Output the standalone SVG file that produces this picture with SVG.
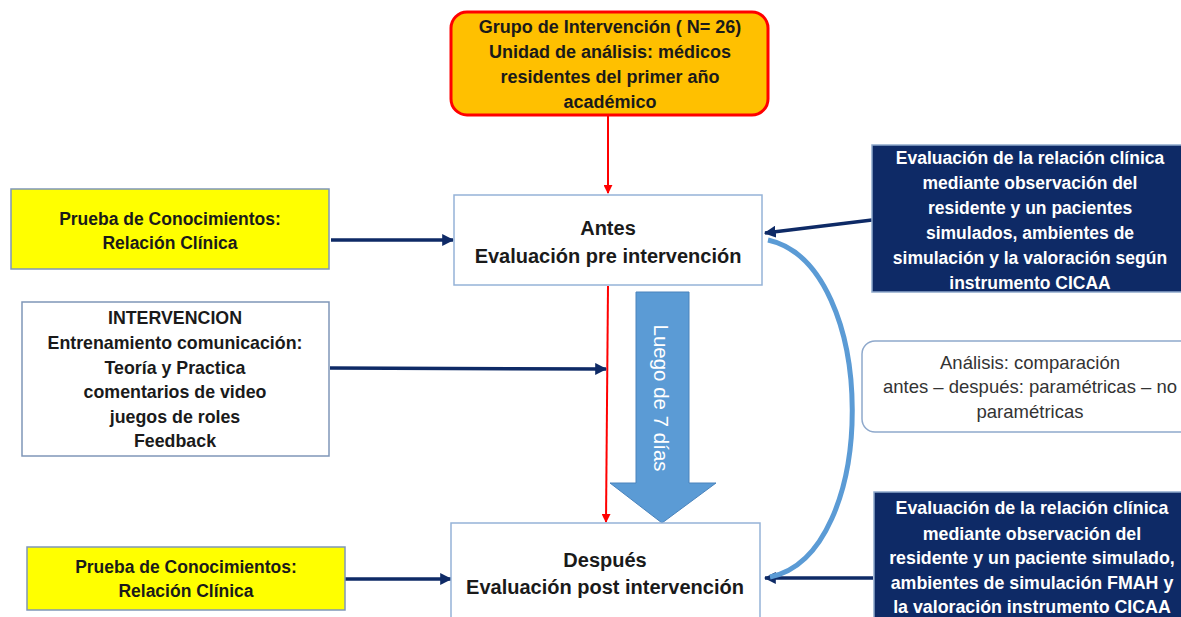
<svg xmlns="http://www.w3.org/2000/svg" width="1181" height="617" viewBox="0 0 1181 617">
<defs>
<style>
.t{font-family:"Liberation Sans",Arial,sans-serif;text-anchor:middle}
.b{font-weight:bold}
.dk{fill:#1a1a1a}
.wh{fill:#ffffff}
.box{fill:#ffffff;stroke:#95B3D7;stroke-width:1.5}
.yel{fill:#FFFF00;stroke:#7F96B8;stroke-width:1.5}
.navy{fill:#0E2A66;stroke:#8FA9CC;stroke-width:1.5}
.nv{stroke:#0E2A66;stroke-width:3.5;fill:none}
.rd{stroke:#FF0000;stroke-width:2;fill:none}
</style>
<marker id="an" viewBox="0 0 10 10" refX="9" refY="5" markerWidth="12" markerHeight="12" markerUnits="userSpaceOnUse" orient="auto">
<path d="M0,0 L10,5 L0,10 z" fill="#0E2A66"/>
</marker>
<marker id="ar" viewBox="0 0 10 10" refX="9" refY="5" markerWidth="9" markerHeight="9" markerUnits="userSpaceOnUse" orient="auto">
<path d="M0,0 L10,5 L0,10 z" fill="#FF0000"/>
</marker>
</defs>
<rect width="1181" height="617" fill="#ffffff"/>

<g id="connectors">
<line class="rd" x1="608" y1="115" x2="608" y2="193" marker-end="url(#ar)"/>
<line class="rd" x1="608" y1="286" x2="606" y2="522" marker-end="url(#ar)"/>
<line class="nv" x1="331" y1="240" x2="453" y2="240" marker-end="url(#an)"/>
<line class="nv" x1="330" y1="368" x2="606" y2="369" marker-end="url(#an)"/>
<line class="nv" x1="345" y1="579" x2="451" y2="579" marker-end="url(#an)"/>
<line class="nv" x1="872" y1="220" x2="765" y2="233" marker-end="url(#an)"/>
<line class="nv" x1="873" y1="578" x2="765" y2="578" marker-end="url(#an)"/>
<path d="M768,240 C880,265 880,555 770,577" fill="none" stroke="#5B9BD5" stroke-width="5"/>
</g>

<g id="grupo">
<rect x="451" y="12" width="317" height="103" rx="16" fill="#FFC000" stroke="#FF0000" stroke-width="3"/>
<text class="t b dk" font-size="18"><tspan x="610" y="33">Grupo de Intervención ( N= 26)</tspan><tspan x="610" y="58">Unidad de análisis: médicos</tspan><tspan x="610" y="83">residentes del primer año</tspan><tspan x="610" y="108">académico</tspan></text>
</g>

<g id="antes">
<rect class="box" x="454" y="195" width="308" height="90"/>
<text class="t dk b" font-size="20"><tspan x="608" y="235">Antes</tspan><tspan x="608" y="263">Evaluación pre intervención</tspan></text>
</g>

<g id="prueba1">
<rect class="yel" x="11" y="189" width="318" height="80"/>
<text class="t dk b" font-size="17.5"><tspan x="170" y="225">Prueba de Conocimientos:</tspan><tspan x="170" y="249">Relación Clínica</tspan></text>
</g>

<g id="intervencion">
<rect class="box" x="22" y="302" width="307" height="154" style="stroke:#7F96B8"/>
<text class="t dk b" font-size="17.8"><tspan x="175" y="324">INTERVENCION</tspan><tspan x="175" y="349">Entrenamiento comunicación:</tspan><tspan x="175" y="374">Teoría y Practica</tspan><tspan x="175" y="398">comentarios de video</tspan><tspan x="175" y="423">juegos de roles</tspan><tspan x="175" y="447">Feedback</tspan></text>
</g>

<g id="flecha7">
<path d="M636,292 L689,292 L689,483 L716,483 L662,523 L610,483 L636,483 Z" fill="#5B9BD5" stroke="#4A83BC" stroke-width="1"/>
<text class="t wh" font-size="20.5" transform="translate(654,398) rotate(90)" x="0" y="0">Luego de 7 días</text>
</g>

<g id="despues">
<rect class="box" x="451" y="523" width="309" height="100"/>
<text class="t dk b" font-size="20"><tspan x="605" y="567">Después</tspan><tspan x="605" y="594">Evaluación post intervención</tspan></text>
</g>

<g id="prueba2">
<rect class="yel" x="27" y="547" width="318" height="63"/>
<text class="t dk b" font-size="17.5"><tspan x="186" y="573">Prueba de Conocimientos:</tspan><tspan x="186" y="597">Relación Clínica</tspan></text>
</g>

<g id="eval1">
<rect class="navy" x="872" y="145" width="312" height="147"/>
<text class="t b wh" font-size="17.5"><tspan x="1030" y="164">Evaluación de la relación clínica</tspan><tspan x="1030" y="189">mediante observación del</tspan><tspan x="1030" y="214">residente y un pacientes</tspan><tspan x="1030" y="239">simulados, ambientes de</tspan><tspan x="1030" y="264">simulación y la valoración según</tspan><tspan x="1030" y="289">instrumento CICAA</tspan></text>
</g>

<g id="analisis">
<rect x="862" y="341" width="340" height="91" rx="13" fill="#ffffff" stroke="#8FA9CC" stroke-width="1.5"/>
<text class="t" font-size="18.5" fill="#333333"><tspan x="1030" y="369">Análisis: comparación</tspan><tspan x="1030" y="393">antes – después: paramétricas – no</tspan><tspan x="1030" y="418">paramétricas</tspan></text>
</g>

<g id="eval2">
<rect class="navy" x="874" y="492" width="312" height="130"/>
<text class="t b wh" font-size="17.8"><tspan x="1032" y="514">Evaluación de la relación clínica</tspan><tspan x="1032" y="540">mediante observación del</tspan><tspan x="1032" y="564">residente y un paciente simulado,</tspan><tspan x="1032" y="589">ambientes de simulación FMAH y</tspan><tspan x="1032" y="613">la valoración instrumento CICAA</tspan></text>
</g>
</svg>
